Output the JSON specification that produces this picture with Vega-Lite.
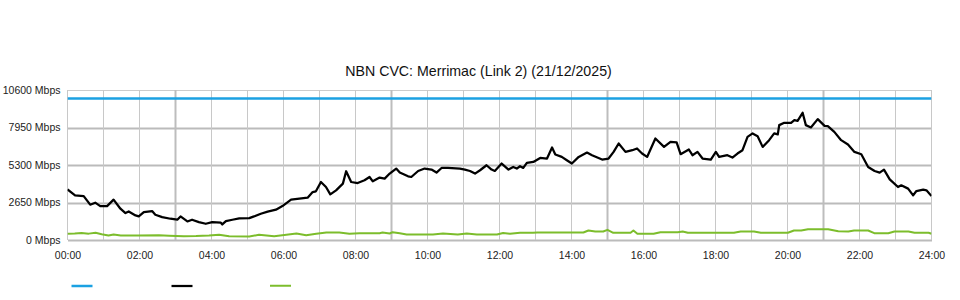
{
  "$schema": "https://vega.github.io/schema/vega-lite/v6.json",
  "width": 864,
  "height": 150,
  "autosize": {"type": "none"},
  "padding": {"left": 67.5, "top": 90, "right": 28.5, "bottom": 60},
  "background": "white",
  "title": {
    "text": "NBN CVC: Merrimac (Link 2) (21/12/2025)",
    "font": "Liberation Sans",
    "fontSize": 14.2,
    "fontWeight": "normal",
    "color": "#111",
    "anchor": "middle",
    "dx": -21,
    "offset": 6
  },
  "config": {
    "view": {"stroke": null},
    "axis": {"labelFont": "Liberation Sans", "labelFontSize": 10.5, "labelColor": "#222", "ticks": false, "domain": false, "title": null}
  },
  "datasets": {
    "hours": [
      {"h": 0, "major": false}, {"h": 1, "major": false}, {"h": 2, "major": false}, {"h": 3, "major": true},
      {"h": 4, "major": false}, {"h": 5, "major": false}, {"h": 6, "major": false}, {"h": 7, "major": false},
      {"h": 8, "major": false}, {"h": 9, "major": true}, {"h": 10, "major": false}, {"h": 11, "major": false},
      {"h": 12, "major": false}, {"h": 13, "major": false}, {"h": 14, "major": false}, {"h": 15, "major": true},
      {"h": 16, "major": false}, {"h": 17, "major": false}, {"h": 18, "major": false}, {"h": 19, "major": false},
      {"h": 20, "major": false}, {"h": 21, "major": true}, {"h": 22, "major": false}, {"h": 23, "major": false},
      {"h": 24, "major": false}
    ],
    "series": [
      {"h": 0, "v": 10000, "s": "CVC Capacity"},
      {"h": 24, "v": 10000, "s": "CVC Capacity"},
      {"h": 0.0, "v": 3580, "s": "Download"},
      {"h": 0.21, "v": 3155, "s": "Download"},
      {"h": 0.45, "v": 3105, "s": "Download"},
      {"h": 0.63, "v": 2495, "s": "Download"},
      {"h": 0.77, "v": 2637, "s": "Download"},
      {"h": 0.91, "v": 2396, "s": "Download"},
      {"h": 1.10, "v": 2396, "s": "Download"},
      {"h": 1.28, "v": 2850, "s": "Download"},
      {"h": 1.47, "v": 2212, "s": "Download"},
      {"h": 1.61, "v": 1900, "s": "Download"},
      {"h": 1.70, "v": 2020, "s": "Download"},
      {"h": 1.89, "v": 1737, "s": "Download"},
      {"h": 1.98, "v": 1666, "s": "Download"},
      {"h": 2.12, "v": 1971, "s": "Download"},
      {"h": 2.35, "v": 2042, "s": "Download"},
      {"h": 2.44, "v": 1787, "s": "Download"},
      {"h": 2.63, "v": 1617, "s": "Download"},
      {"h": 2.86, "v": 1503, "s": "Download"},
      {"h": 3.05, "v": 1432, "s": "Download"},
      {"h": 3.14, "v": 1666, "s": "Download"},
      {"h": 3.33, "v": 1312, "s": "Download"},
      {"h": 3.46, "v": 1432, "s": "Download"},
      {"h": 3.65, "v": 1262, "s": "Download"},
      {"h": 3.84, "v": 1148, "s": "Download"},
      {"h": 4.02, "v": 1262, "s": "Download"},
      {"h": 4.26, "v": 1220, "s": "Download"},
      {"h": 4.30, "v": 1099, "s": "Download"},
      {"h": 4.40, "v": 1333, "s": "Download"},
      {"h": 4.58, "v": 1432, "s": "Download"},
      {"h": 4.77, "v": 1524, "s": "Download"},
      {"h": 5.05, "v": 1546, "s": "Download"},
      {"h": 5.18, "v": 1666, "s": "Download"},
      {"h": 5.37, "v": 1857, "s": "Download"},
      {"h": 5.56, "v": 2000, "s": "Download"},
      {"h": 5.79, "v": 2141, "s": "Download"},
      {"h": 5.97, "v": 2396, "s": "Download"},
      {"h": 6.21, "v": 2850, "s": "Download"},
      {"h": 6.44, "v": 2921, "s": "Download"},
      {"h": 6.67, "v": 2992, "s": "Download"},
      {"h": 6.81, "v": 3389, "s": "Download"},
      {"h": 6.90, "v": 3439, "s": "Download"},
      {"h": 7.04, "v": 4098, "s": "Download"},
      {"h": 7.18, "v": 3744, "s": "Download"},
      {"h": 7.30, "v": 3226, "s": "Download"},
      {"h": 7.46, "v": 3510, "s": "Download"},
      {"h": 7.65, "v": 3985, "s": "Download"},
      {"h": 7.74, "v": 4857, "s": "Download"},
      {"h": 7.88, "v": 4098, "s": "Download"},
      {"h": 8.06, "v": 4027, "s": "Download"},
      {"h": 8.25, "v": 4219, "s": "Download"},
      {"h": 8.39, "v": 4453, "s": "Download"},
      {"h": 8.48, "v": 4148, "s": "Download"},
      {"h": 8.67, "v": 4410, "s": "Download"},
      {"h": 8.81, "v": 4339, "s": "Download"},
      {"h": 8.95, "v": 4694, "s": "Download"},
      {"h": 9.13, "v": 5048, "s": "Download"},
      {"h": 9.23, "v": 4764, "s": "Download"},
      {"h": 9.46, "v": 4502, "s": "Download"},
      {"h": 9.55, "v": 4453, "s": "Download"},
      {"h": 9.74, "v": 4878, "s": "Download"},
      {"h": 9.92, "v": 5048, "s": "Download"},
      {"h": 10.11, "v": 4977, "s": "Download"},
      {"h": 10.25, "v": 4764, "s": "Download"},
      {"h": 10.39, "v": 5091, "s": "Download"},
      {"h": 10.57, "v": 5091, "s": "Download"},
      {"h": 10.90, "v": 5048, "s": "Download"},
      {"h": 11.04, "v": 4977, "s": "Download"},
      {"h": 11.18, "v": 4878, "s": "Download"},
      {"h": 11.32, "v": 4694, "s": "Download"},
      {"h": 11.46, "v": 4928, "s": "Download"},
      {"h": 11.64, "v": 5282, "s": "Download"},
      {"h": 11.78, "v": 4977, "s": "Download"},
      {"h": 11.87, "v": 4878, "s": "Download"},
      {"h": 12.06, "v": 5402, "s": "Download"},
      {"h": 12.25, "v": 4977, "s": "Download"},
      {"h": 12.38, "v": 5162, "s": "Download"},
      {"h": 12.48, "v": 5048, "s": "Download"},
      {"h": 12.57, "v": 5211, "s": "Download"},
      {"h": 12.66, "v": 5091, "s": "Download"},
      {"h": 12.76, "v": 5445, "s": "Download"},
      {"h": 12.94, "v": 5516, "s": "Download"},
      {"h": 13.13, "v": 5800, "s": "Download"},
      {"h": 13.32, "v": 5757, "s": "Download"},
      {"h": 13.46, "v": 6537, "s": "Download"},
      {"h": 13.55, "v": 6041, "s": "Download"},
      {"h": 13.73, "v": 5871, "s": "Download"},
      {"h": 13.87, "v": 5637, "s": "Download"},
      {"h": 14.01, "v": 5402, "s": "Download"},
      {"h": 14.20, "v": 5871, "s": "Download"},
      {"h": 14.43, "v": 6182, "s": "Download"},
      {"h": 14.57, "v": 5991, "s": "Download"},
      {"h": 14.85, "v": 5686, "s": "Download"},
      {"h": 15.03, "v": 5757, "s": "Download"},
      {"h": 15.17, "v": 6225, "s": "Download"},
      {"h": 15.31, "v": 6821, "s": "Download"},
      {"h": 15.50, "v": 6225, "s": "Download"},
      {"h": 15.69, "v": 6346, "s": "Download"},
      {"h": 15.82, "v": 6466, "s": "Download"},
      {"h": 15.96, "v": 6112, "s": "Download"},
      {"h": 16.10, "v": 5871, "s": "Download"},
      {"h": 16.33, "v": 7175, "s": "Download"},
      {"h": 16.57, "v": 6580, "s": "Download"},
      {"h": 16.75, "v": 6934, "s": "Download"},
      {"h": 16.92, "v": 6892, "s": "Download"},
      {"h": 17.03, "v": 6062, "s": "Download"},
      {"h": 17.26, "v": 6395, "s": "Download"},
      {"h": 17.36, "v": 5991, "s": "Download"},
      {"h": 17.50, "v": 6225, "s": "Download"},
      {"h": 17.64, "v": 5757, "s": "Download"},
      {"h": 17.87, "v": 5686, "s": "Download"},
      {"h": 18.01, "v": 6225, "s": "Download"},
      {"h": 18.10, "v": 5871, "s": "Download"},
      {"h": 18.33, "v": 5991, "s": "Download"},
      {"h": 18.47, "v": 5828, "s": "Download"},
      {"h": 18.61, "v": 6112, "s": "Download"},
      {"h": 18.75, "v": 6346, "s": "Download"},
      {"h": 18.89, "v": 7289, "s": "Download"},
      {"h": 19.03, "v": 7530, "s": "Download"},
      {"h": 19.17, "v": 7338, "s": "Download"},
      {"h": 19.31, "v": 6580, "s": "Download"},
      {"h": 19.49, "v": 7055, "s": "Download"},
      {"h": 19.63, "v": 7530, "s": "Download"},
      {"h": 19.73, "v": 7459, "s": "Download"},
      {"h": 19.77, "v": 8118, "s": "Download"},
      {"h": 19.91, "v": 8281, "s": "Download"},
      {"h": 20.10, "v": 8281, "s": "Download"},
      {"h": 20.19, "v": 8473, "s": "Download"},
      {"h": 20.28, "v": 8423, "s": "Download"},
      {"h": 20.42, "v": 8990, "s": "Download"},
      {"h": 20.51, "v": 8118, "s": "Download"},
      {"h": 20.65, "v": 7955, "s": "Download"},
      {"h": 20.84, "v": 8544, "s": "Download"},
      {"h": 21.03, "v": 8068, "s": "Download"},
      {"h": 21.12, "v": 8047, "s": "Download"},
      {"h": 21.30, "v": 7643, "s": "Download"},
      {"h": 21.49, "v": 7055, "s": "Download"},
      {"h": 21.68, "v": 6750, "s": "Download"},
      {"h": 21.86, "v": 6225, "s": "Download"},
      {"h": 22.05, "v": 6062, "s": "Download"},
      {"h": 22.24, "v": 5162, "s": "Download"},
      {"h": 22.42, "v": 4878, "s": "Download"},
      {"h": 22.56, "v": 4764, "s": "Download"},
      {"h": 22.68, "v": 4977, "s": "Download"},
      {"h": 22.84, "v": 4289, "s": "Download"},
      {"h": 23.07, "v": 3744, "s": "Download"},
      {"h": 23.16, "v": 3864, "s": "Download"},
      {"h": 23.35, "v": 3630, "s": "Download"},
      {"h": 23.49, "v": 3155, "s": "Download"},
      {"h": 23.58, "v": 3460, "s": "Download"},
      {"h": 23.77, "v": 3559, "s": "Download"},
      {"h": 23.86, "v": 3510, "s": "Download"},
      {"h": 24.0, "v": 3105, "s": "Download"},
      {"h": 0.0, "v": 440, "s": "Upload"},
      {"h": 0.2, "v": 460, "s": "Upload"},
      {"h": 0.39, "v": 490, "s": "Upload"},
      {"h": 0.59, "v": 450, "s": "Upload"},
      {"h": 0.78, "v": 510, "s": "Upload"},
      {"h": 0.95, "v": 400, "s": "Upload"},
      {"h": 1.14, "v": 320, "s": "Upload"},
      {"h": 1.28, "v": 390, "s": "Upload"},
      {"h": 1.48, "v": 320, "s": "Upload"},
      {"h": 1.98, "v": 320, "s": "Upload"},
      {"h": 2.54, "v": 330, "s": "Upload"},
      {"h": 2.82, "v": 300, "s": "Upload"},
      {"h": 3.23, "v": 270, "s": "Upload"},
      {"h": 3.57, "v": 280, "s": "Upload"},
      {"h": 3.93, "v": 320, "s": "Upload"},
      {"h": 4.21, "v": 370, "s": "Upload"},
      {"h": 4.49, "v": 260, "s": "Upload"},
      {"h": 5.05, "v": 250, "s": "Upload"},
      {"h": 5.32, "v": 370, "s": "Upload"},
      {"h": 5.74, "v": 270, "s": "Upload"},
      {"h": 6.08, "v": 370, "s": "Upload"},
      {"h": 6.36, "v": 460, "s": "Upload"},
      {"h": 6.63, "v": 340, "s": "Upload"},
      {"h": 6.91, "v": 440, "s": "Upload"},
      {"h": 7.19, "v": 530, "s": "Upload"},
      {"h": 7.55, "v": 530, "s": "Upload"},
      {"h": 7.83, "v": 440, "s": "Upload"},
      {"h": 8.11, "v": 482, "s": "Upload"},
      {"h": 8.67, "v": 482, "s": "Upload"},
      {"h": 8.75, "v": 530, "s": "Upload"},
      {"h": 8.95, "v": 460, "s": "Upload"},
      {"h": 9.03, "v": 553, "s": "Upload"},
      {"h": 9.23, "v": 480, "s": "Upload"},
      {"h": 9.42, "v": 390, "s": "Upload"},
      {"h": 10.15, "v": 390, "s": "Upload"},
      {"h": 10.43, "v": 460, "s": "Upload"},
      {"h": 10.84, "v": 390, "s": "Upload"},
      {"h": 11.09, "v": 460, "s": "Upload"},
      {"h": 11.37, "v": 390, "s": "Upload"},
      {"h": 11.93, "v": 390, "s": "Upload"},
      {"h": 12.10, "v": 500, "s": "Upload"},
      {"h": 12.29, "v": 440, "s": "Upload"},
      {"h": 12.57, "v": 510, "s": "Upload"},
      {"h": 12.93, "v": 510, "s": "Upload"},
      {"h": 13.05, "v": 530, "s": "Upload"},
      {"h": 14.33, "v": 530, "s": "Upload"},
      {"h": 14.47, "v": 673, "s": "Upload"},
      {"h": 14.66, "v": 600, "s": "Upload"},
      {"h": 14.88, "v": 600, "s": "Upload"},
      {"h": 15.0, "v": 720, "s": "Upload"},
      {"h": 15.16, "v": 510, "s": "Upload"},
      {"h": 15.64, "v": 510, "s": "Upload"},
      {"h": 15.72, "v": 673, "s": "Upload"},
      {"h": 15.83, "v": 440, "s": "Upload"},
      {"h": 16.28, "v": 440, "s": "Upload"},
      {"h": 16.47, "v": 553, "s": "Upload"},
      {"h": 16.95, "v": 553, "s": "Upload"},
      {"h": 17.09, "v": 600, "s": "Upload"},
      {"h": 17.23, "v": 510, "s": "Upload"},
      {"h": 18.51, "v": 510, "s": "Upload"},
      {"h": 18.70, "v": 600, "s": "Upload"},
      {"h": 19.07, "v": 600, "s": "Upload"},
      {"h": 19.26, "v": 510, "s": "Upload"},
      {"h": 20.01, "v": 510, "s": "Upload"},
      {"h": 20.18, "v": 673, "s": "Upload"},
      {"h": 20.38, "v": 673, "s": "Upload"},
      {"h": 20.57, "v": 766, "s": "Upload"},
      {"h": 21.13, "v": 766, "s": "Upload"},
      {"h": 21.41, "v": 624, "s": "Upload"},
      {"h": 21.69, "v": 600, "s": "Upload"},
      {"h": 21.85, "v": 673, "s": "Upload"},
      {"h": 22.24, "v": 673, "s": "Upload"},
      {"h": 22.41, "v": 482, "s": "Upload"},
      {"h": 22.80, "v": 482, "s": "Upload"},
      {"h": 22.97, "v": 600, "s": "Upload"},
      {"h": 23.36, "v": 600, "s": "Upload"},
      {"h": 23.53, "v": 510, "s": "Upload"},
      {"h": 23.92, "v": 510, "s": "Upload"},
      {"h": 24.0, "v": 440, "s": "Upload"}
    ]
  },
  "layer": [
    {
      "data": {"name": "hours"},
      "mark": {"type": "rule", "color": "#c8c8c8", "strokeWidth": 1},
      "transform": [{"filter": "!datum.major"}],
      "encoding": {
        "x": {"field": "h", "type": "quantitative"}
      }
    },
    {
      "data": {"name": "hours"},
      "mark": {"type": "rule", "color": "#bdbdbd", "strokeWidth": 2},
      "transform": [{"filter": "datum.major"}],
      "encoding": {
        "x": {"field": "h", "type": "quantitative"}
      }
    },
    {
      "data": {"name": "series"},
      "mark": {"type": "line", "strokeJoin": "round", "strokeCap": "butt", "clip": true},
      "encoding": {
        "x": {
          "field": "h",
          "type": "quantitative",
          "scale": {"domain": [0, 24], "nice": false, "zero": false},
          "axis": {
            "values": [0,2,4,6,8,10,12,14,16,18,20,22,24],
            "labelExpr": "(datum.value < 10 ? '0' : '') + datum.value + ':00'",
            "labelFlush": false,
            "labelOverlap": false,
            "labelBound": false,
            "labelPadding": 10,
            "grid": false
          }
        },
        "y": {
          "field": "v",
          "type": "quantitative",
          "scale": {"domain": [0, 10600], "nice": false},
          "axis": {
            "values": [0, 2650, 5300, 7950, 10600],
            "labelExpr": "datum.value + ' Mbps'",
            "labelPadding": 7.5,
            "gridColor": {"condition": {"test": "datum.value == 10600", "value": "#cccccc"}, "value": "#bbbbbb"},
            "gridWidth": {"condition": {"test": "datum.value == 10600", "value": 1}, "value": 2}
          }
        },
        "color": {
          "field": "s",
          "type": "nominal",
          "scale": {"domain": ["CVC Capacity", "Download", "Upload"], "range": ["#1ba1e2", "#000000", "#7cbd2c"]},
          "legend": {
            "orient": "none",
            "direction": "horizontal",
            "legendX": 2.5,
            "legendY": 184,
            "title": null,
            "symbolType": "stroke",
            "symbolSize": 441,
            "symbolStrokeWidth": 2.5,
            "labelExpr": "''",
            "labelOffset": 0,
            "columnPadding": 69,
            "padding": 0
          }
        },
        "strokeWidth": {
          "field": "s",
          "type": "nominal",
          "scale": {"domain": ["CVC Capacity", "Download", "Upload"], "range": [2.5, 2, 2]},
          "legend": null
        }
      }
    }
  ]
}
